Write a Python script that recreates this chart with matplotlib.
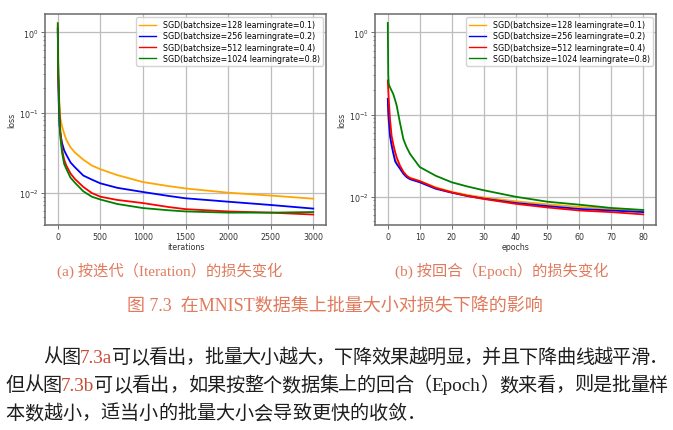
import matplotlib
matplotlib.use("Agg")
import matplotlib.pyplot as plt

# ---------------- data ----------------
series_labels = ["SGD(batchsize=128 learningrate=0.1)",
                 "SGD(batchsize=256 learningrate=0.2)",
                 "SGD(batchsize=512 learningrate=0.4)",
                 "SGD(batchsize=1024 learningrate=0.8)"]
series_colors = ["orange", "blue", "red", "green"]

iterations = [0, 5, 10, 20, 30, 50, 75, 100, 150, 200, 300, 400, 500, 700,
              1000, 1300, 1500, 2000, 2500, 3000]
loss_iter_128 = [1.25, 0.50, 0.25, 0.12, 0.085, 0.068, 0.055, 0.046, 0.037, 0.032,
                 0.026, 0.022, 0.0198, 0.0167, 0.0137, 0.0122, 0.0114, 0.0101, 0.0093, 0.0085]
loss_iter_256 = [1.10, 0.35, 0.15, 0.07, 0.055, 0.042, 0.034, 0.030, 0.024, 0.021,
                 0.0165, 0.0147, 0.0132, 0.0116, 0.0103, 0.0092, 0.0086, 0.0078, 0.0071, 0.0064]
loss_iter_512 = [1.15, 0.30, 0.20, 0.10, 0.06, 0.035, 0.026, 0.022, 0.0175, 0.015,
                 0.0119, 0.0100, 0.0090, 0.0082, 0.0075, 0.0067, 0.0063, 0.0059, 0.0057, 0.0054]
loss_iter_1024 = [1.30, 0.30, 0.22, 0.09, 0.05, 0.032, 0.023, 0.020, 0.0155, 0.0135,
                  0.0105, 0.0090, 0.0083, 0.0073, 0.0065, 0.0061, 0.0059, 0.0057, 0.0057, 0.0058]

epochs = [0, 0.15, 0.3, 0.7, 1.2, 1.7, 2.3, 2.8, 3.8, 4.9, 5.9, 7, 10, 15, 20, 25,
          30, 40, 50, 60, 70, 80]
loss_ep_128 = [0.13, 0.10, 0.08, 0.058, 0.045, 0.036, 0.029, 0.026, 0.023, 0.020, 0.018,
               0.017, 0.0155, 0.013, 0.0115, 0.0105, 0.0098, 0.0088, 0.0081, 0.0075, 0.0071, 0.0067]
loss_ep_256 = [0.155, 0.11, 0.088, 0.055, 0.042, 0.034, 0.027, 0.025, 0.022, 0.019, 0.0173,
               0.0163, 0.0150, 0.0125, 0.0112, 0.0102, 0.0095, 0.0084, 0.0077, 0.0071, 0.0068, 0.0065]
loss_ep_512 = [0.26, 0.20, 0.154, 0.088, 0.055, 0.044, 0.035, 0.030, 0.024, 0.020, 0.018,
               0.0168, 0.0155, 0.0128, 0.0113, 0.0102, 0.0094, 0.0082, 0.0074, 0.0068, 0.0065, 0.0061]
loss_ep_1024 = [1.30, 0.30, 0.235, 0.214, 0.195, 0.178, 0.150, 0.128, 0.080, 0.050, 0.040,
                0.033, 0.023, 0.018, 0.015, 0.0133, 0.0120, 0.0100, 0.0087, 0.0080, 0.0073, 0.0069]

caption_a = "(a) 按迭代（Iteration）的损失变化"
caption_b = "(b) 按回合（Epoch）的损失变化"
figure_caption = "图 7.3  在MNIST数据集上批量大小对损失下降的影响"
body_line1 = [("从图", "body"), ("7.3a", "ref"), ("可以看出，批量大小越大，下降效果越明显，并且下降曲线越平滑．", "body")]
body_line2 = [("但从图", "body"), ("7.3b", "ref"), ("可以看出，如果按整个数据集上的回合（Epoch）数来看，则是批量样", "body")]
body_line3 = [("本数越小，适当小的批量大小会导致更快的收敛．", "body")]

# ---------------- figure ----------------
W, H = 673, 431
fig = plt.figure(figsize=(W / 100, H / 100), dpi=100)
FAM = ["Liberation Serif", "Noto Sans CJK SC", "DejaVu Sans"]
text_colors = {"body": "#1e1e1e", "ref": "#c94a33", "cap": "#e07a5c"}


def px(x, y):
    return (x / W, 1 - y / H)


ax1 = fig.add_axes([45 / W, 1 - 226 / H, 281 / W, 211 / H])
ax2 = fig.add_axes([375 / W, 1 - 226 / H, 281 / W, 211 / H])

for ys, c, lab in zip([loss_iter_128, loss_iter_256, loss_iter_512, loss_iter_1024],
                      series_colors, series_labels):
    ax1.plot(iterations, ys, color=c, lw=1.3, label=lab)
for ys, c, lab in zip([loss_ep_128, loss_ep_256, loss_ep_512, loss_ep_1024],
                      series_colors, series_labels):
    ax2.plot(epochs, ys, color=c, lw=1.3, label=lab)

for ax, xl, xlim, ylim in [(ax1, "iterations", (-150, 3150), (0.0040, 1.69)),
                           (ax2, "epochs", (-4, 84), (0.00453, 1.67))]:
    ax.set_yscale("log")
    ax.set_xlim(*xlim)
    ax.set_ylim(*ylim)
    ax.grid(True, which="major", color="#bdbdbd", lw=0.9)
    ax.set_axisbelow(True)
    for s in ax.spines.values():
        s.set_color("#6a6a6a")
        s.set_linewidth(1.1)
    ax.tick_params(which="both", labelsize=5.7, color="#555555", labelcolor="#333333")
    ax.tick_params(which="major", length=2.8, width=0.6, pad=2)
    ax.tick_params(which="minor", length=1.6, width=0.5)
    ax.set_xlabel(xl, fontsize=5.7, color="#333333", labelpad=1)
    ax.set_ylabel("loss", fontsize=5.7, color="#333333", labelpad=2)
    leg = ax.legend(loc="upper right", fontsize=5.65, labelspacing=0.28, borderaxespad=0.4,
                    handlelength=2.2, borderpad=0.4, framealpha=0.85)
    for line in leg.get_lines():
        line.set_linewidth(1.0)

renderer = fig.canvas.get_renderer()


def split_units(s):
    units, buf = [], ""
    for ch in s:
        if ord(ch) < 128:
            buf += ch
        else:
            if buf:
                units.append(buf)
                buf = ""
            units.append(ch)
    if buf:
        units.append(buf)
    return units


def draw_run(segments, x0, y, size, x1=None):
    items = []
    for text, ckey in segments:
        for u in split_units(text):
            t = fig.text(0, 0, u, fontsize=size, color=text_colors[ckey], family=FAM,
                         va="baseline", ha="left")
            w = t.get_window_extent(renderer).width
            items.append((t, w))
    total = sum(w for _, w in items)
    gap = 0 if x1 is None else (x1 - x0 - total) / (len(items) - 1)
    x = x0
    for t, w in items:
        t.set_position(px(x, y))
        x += w + gap


fig.text(*px(170, 275.5), caption_a, fontsize=11.0, color=text_colors["cap"], family=FAM,
         ha="center", va="baseline")
fig.text(*px(502, 275.5), caption_b, fontsize=11.0, color=text_colors["cap"], family=FAM,
         ha="center", va="baseline")
fig.text(*px(335, 311.5), figure_caption, fontsize=13.0, color=text_colors["cap"], family=FAM,
         ha="center", va="baseline")

draw_run(body_line1, 43, 363, 13.8, x1=668)
draw_run(body_line2, 5, 391, 13.8, x1=668)
draw_run(body_line3, 5, 419, 13.8)

fig.savefig("out.png", dpi=100)
